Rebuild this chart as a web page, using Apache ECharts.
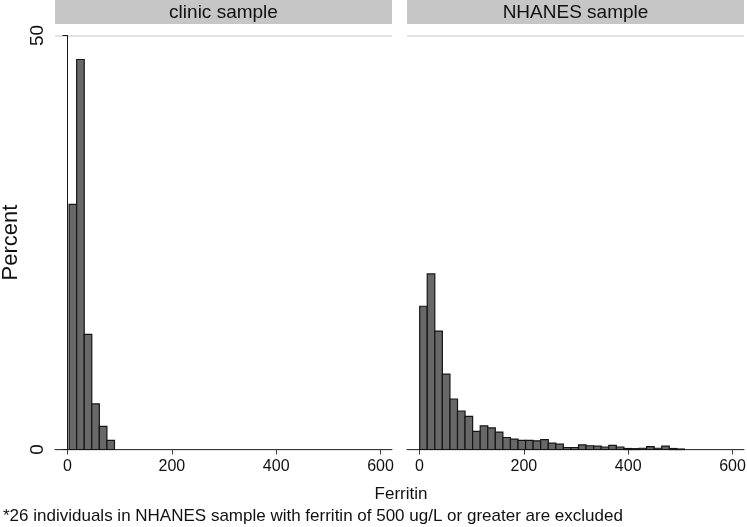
<!DOCTYPE html>
<html>
<head>
<meta charset="utf-8">
<script src="https://cdn.jsdelivr.net/npm/echarts@6/dist/echarts.min.js"></script>
<style>
  html, body { margin: 0; padding: 0; background: #fff; }
  #chart { width: 747px; height: 527px; }
</style>
</head>
<body>
<div id="chart"></div>
<script>
// panel titles
const panels = ['clinic sample', 'NHANES sample']

// histogram bins (ferritin, ug/L)
const clinicBinStart = 3
const clinicBinWidth = 14.5
const clinicPercent = [29.6, 47.1, 13.9, 5.5, 2.8, 1.1]

const nhanesBinStart = 0.3
const nhanesBinWidth = 14.5
const nhanesPercent = [
  17.3, 21.2, 14.3, 9.1, 6.1, 4.65, 4.0, 2.2, 2.85, 2.6,
  2.1, 1.45, 1.25, 1.1, 1.1, 1.05, 1.2, 0.76, 0.64, 0.24,
  0.24, 0.56, 0.45, 0.4, 0.3, 0.5, 0.3, 0.12, 0.1, 0.15,
  0.35, 0.15, 0.4, 0.12, 0.06
]

const xTicks = [0, 200, 400, 600]

const font = 'Liberation Sans, Arial, sans-serif'
const barFill = '#686868'
const barEdge = '#161616'

function toBins(start, width, values) {
  return values.map((v, i) => [start + i * width, start + (i + 1) * width, v])
}

function renderBar(params, api) {
  const p0 = api.coord([api.value(0), api.value(2)])
  const p1 = api.coord([api.value(1), 0])
  return {
    type: 'rect',
    shape: { x: p0[0], y: p0[1], width: p1[0] - p0[0], height: p1[1] - p0[1] },
    style: { fill: barFill, stroke: barEdge, lineWidth: 1.2 }
  }
}

const grids = [
  { left: 55, top: 35.5, width: 337, height: 414, outerBoundsMode: 'none', containLabel: false },
  { left: 407, top: 35.5, width: 337, height: 414, outerBoundsMode: 'none', containLabel: false }
]

function xAxis(i) {
  return {
    type: 'value', gridIndex: i, min: -24, max: 622,
    axisLine: { show: true, lineStyle: { color: '#3a3a3a', width: 1 } },
    axisTick: { show: true, length: 5, lineStyle: { color: '#3a3a3a' }, customValues: xTicks },
    axisLabel: { color: '#111', fontFamily: font, fontSize: 16, margin: 9, customValues: xTicks },
    splitLine: { show: false }
  }
}

function yAxis(i) {
  return {
    type: 'value', gridIndex: i, min: 0, max: 50, interval: 50,
    axisLine: { show: i === 0, lineStyle: { color: '#1a1a1a', width: 1 } },
    axisTick: { show: i === 0, length: 5, lineStyle: { color: '#1a1a1a' } },
    axisLabel: { show: i === 0, color: '#111', fontFamily: font, fontSize: 19, rotate: 90, margin: 8 },
    splitLine: { show: true, lineStyle: { color: '#e2e2e2', width: 2 } },
    name: i === 0 ? 'Percent' : '',
    nameLocation: 'middle', nameGap: 33,
    nameTextStyle: { color: '#111', fontFamily: font, fontSize: 22 }
  }
}

const chart = echarts.init(document.getElementById('chart'), null, { renderer: 'canvas' })

chart.setOption({
  animation: false,
  backgroundColor: '#fff',
  grid: grids,
  xAxis: [xAxis(0), xAxis(1)],
  yAxis: [yAxis(0), yAxis(1)],
  graphic: [
    { type: 'rect', left: 55, top: 0, shape: { width: 337, height: 24 }, style: { fill: '#c6c6c6' } },
    { type: 'rect', left: 407, top: 0, shape: { width: 337, height: 24 }, style: { fill: '#c6c6c6' } },
    { type: 'text', x: 55 + 337 / 2, y: 12.5, style: { text: panels[0], font: '19px ' + font, fill: '#111', align: 'center', verticalAlign: 'middle' } },
    { type: 'text', x: 407 + 337 / 2, y: 12.5, style: { text: panels[1], font: '19px ' + font, fill: '#111', align: 'center', verticalAlign: 'middle' } },
    { type: 'text', x: 401, y: 494, style: { text: 'Ferritin', font: '17px ' + font, fill: '#111', align: 'center', verticalAlign: 'middle' } },
    { type: 'text', x: 3, y: 516, style: { text: '*26 individuals in NHANES sample with ferritin of 500 ug/L or greater are excluded', font: '17px ' + font, fill: '#111', align: 'left', verticalAlign: 'middle' } }
  ],
  series: [
    {
      type: 'custom', xAxisIndex: 0, yAxisIndex: 0,
      renderItem: renderBar, encode: { x: [0, 1], y: 2 },
      data: toBins(clinicBinStart, clinicBinWidth, clinicPercent)
    },
    {
      type: 'custom', xAxisIndex: 1, yAxisIndex: 1,
      renderItem: renderBar, encode: { x: [0, 1], y: 2 },
      data: toBins(nhanesBinStart, nhanesBinWidth, nhanesPercent)
    }
  ]
})
</script>
</body>
</html>
